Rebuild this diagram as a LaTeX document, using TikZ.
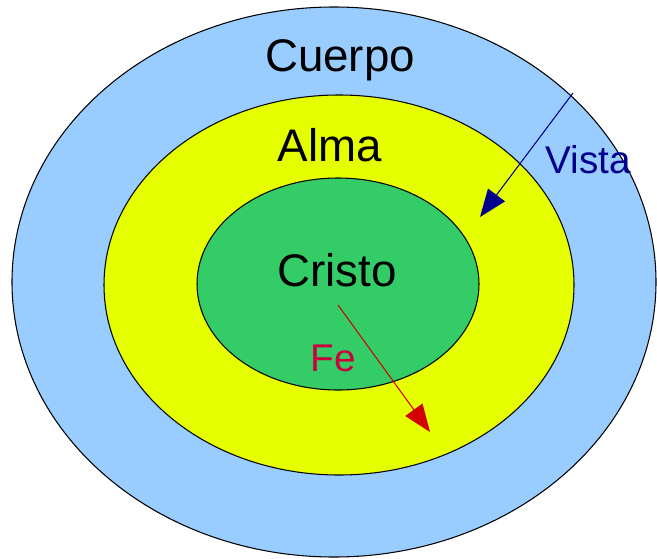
\documentclass[tikz,border=0pt]{standalone}
\usepackage{fontspec}
\setmainfont{Liberation Sans}
\usetikzlibrary{arrows.meta}
\definecolor{cuerpoblue}{RGB}{153,204,255}
\definecolor{almayellow}{RGB}{230,255,0}
\definecolor{cristogreen}{RGB}{51,204,102}
\definecolor{vistanavy}{RGB}{0,0,140}
\definecolor{fered}{RGB}{204,0,60}
\definecolor{arrowred}{RGB}{210,0,0}

\begin{document}
\begin{tikzpicture}
			%%%%% START %%%%%
			\useasboundingbox (0, 0) rectangle (13.14, 11.16);
			
			\draw[line width=0.6pt, fill=cuerpoblue] (6.68, 5.52) ellipse (6.44 and 5.5);
			\draw[line width=0.6pt, fill=almayellow] (6.78, 5.46) ellipse (4.7 and 3.8);
			\draw[line width=0.6pt, fill=cristogreen] (6.76, 5.48) ellipse (2.82 and 2.12);
			
			\node (cuerpo) at (6.80, 9.96) {\fontsize{26}{30}\selectfont Cuerpo};
			\node (alma) at (6.60, 8.26) {\fontsize{26}{30}\selectfont Alma};
			\node (cristo) at (6.74, 5.76) {\fontsize{26}{30}\selectfont Cristo};
			\node[color=vistanavy] (vista) at (11.76, 7.96) {\fontsize{22}{26}\selectfont Vista};
			\node[color=fered] (fe) at (6.66, 4.0) {\fontsize{22}{26}\selectfont Fe};
			
			\coordinate (vistastart) at (11.46, 9.30);
			\coordinate (vistaend) at (9.60, 6.82);
			\coordinate (festart) at (6.76, 5.06);
			\coordinate (feend) at (8.60, 2.52);
			
			\draw[line width=0.6pt, color=vistanavy, -{Triangle[length=0.55cm, width=0.42cm]}] (vistastart) -- (vistaend);
			\draw[line width=0.6pt, color=arrowred, -{Triangle[length=0.55cm, width=0.42cm]}] (festart) -- (feend);
			
			%%%%% END %%%%%
		\end{tikzpicture}
\end{document}
